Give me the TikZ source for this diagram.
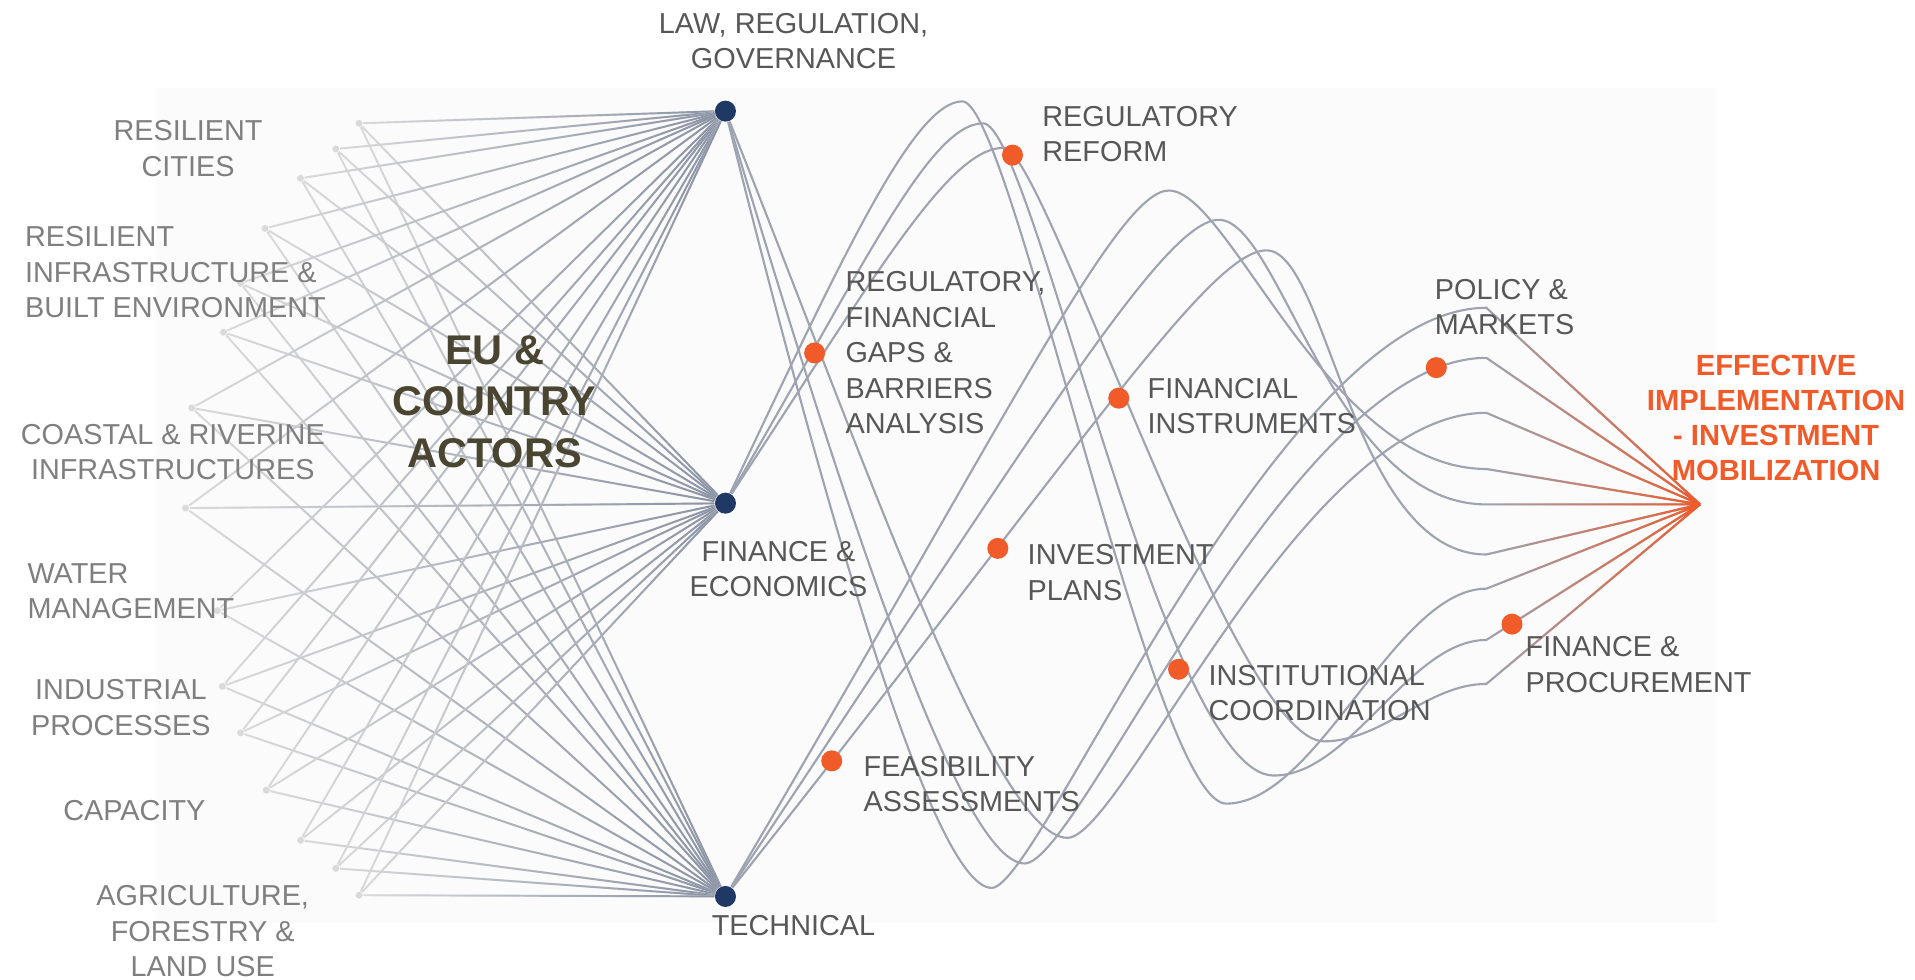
\documentclass[tikz,border=0pt]{standalone}
\usepackage{fontspec}
\setmainfont{Liberation Sans}
\usetikzlibrary{positioning,fadings,backgrounds}

\definecolor{hubnavy}{HTML}{1F3864}
\definecolor{accent}{HTML}{F15A29}
\definecolor{wire}{HTML}{9DA3B0}
\definecolor{spokelight}{HTML}{DADADA}
\definecolor{spokedark}{HTML}{8A93A5}
\definecolor{sidegray}{HTML}{7F7F7F}
\definecolor{textgray}{HTML}{575757}
\definecolor{actorolive}{HTML}{4A4530}
\definecolor{panel}{HTML}{FBFBFB}

\tikzfading[name=fade in east,left color=transparent!100,right color=transparent!0]

\tikzset{
  hub/.style={circle,fill=hubnavy,inner sep=0pt,minimum size=2.1mm},
  stage/.style={circle,fill=accent,inner sep=0pt,minimum size=2.1mm},
  source/.style={circle,fill=spokelight,inner sep=0pt,minimum size=0.7mm},
  spoke/.style={draw=spokelight,line width=0.55pt,postaction={draw=spokedark,path fading=fade in east}},
  wave/.style={draw=wire,line width=0.6pt},
  glow/.style={draw=accent,line width=0.6pt,path fading=fade in east},
  sidelabel/.style={font=\fontsize{8.2}{10.1}\selectfont,text=sidegray,align=center,inner sep=0pt},
  hublabel/.style={font=\fontsize{8.2}{10.1}\selectfont,text=textgray,align=center,inner sep=0pt},
  steplabel/.style={font=\fontsize{8.2}{10.1}\selectfont,text=textgray,align=left,inner sep=0pt},
  goallabel/.style={font=\bfseries\fontsize{8.3}{9.9}\selectfont,text=accent,align=center,inner sep=0pt},
  actorlabel/.style={font=\bfseries\fontsize{11.8}{14.6}\selectfont,text=actorolive,align=center,inner sep=0pt}
}

\begin{document}
\begin{tikzpicture}[x=0.012213cm,y=-0.012213cm]
\useasboundingbox (0,0) rectangle (1568,802);

% sector anchors on the left
\node[source] (s1) at (294,101) {};
\node[source] (s2) at (275,122) {};
\node[source] (s3) at (246,146) {};
\node[source] (s4) at (217,187) {};
\node[source] (s5) at (197,232) {};
\node[source] (s6) at (183,272) {};
\node[source] (s7) at (157,334) {};
\node[source] (s8) at (152,416) {};
\node[source] (s9) at (178,500) {};
\node[source] (s10) at (182,562) {};
\node[source] (s11) at (197,600) {};
\node[source] (s12) at (218,647) {};
\node[source] (s13) at (246,688) {};
\node[source] (s14) at (275,711) {};
\node[source] (s15) at (294,733) {};

% expertise hubs
\node[hub] (law) at (594,91) {};
\node[hub] (fin) at (594,412) {};
\node[hub] (tech) at (594,734) {};

% steps on the way
\node[stage] (gaps) at (667,289) {};
\node[stage] (reform) at (829,127) {};
\node[stage] (instr) at (916,326) {};
\node[stage] (plans) at (817,449) {};
\node[stage] (feas) at (681,623) {};
\node[stage] (coord) at (965,548) {};
\node[stage] (policy) at (1176,301) {};
\node[stage] (procure) at (1238,511) {};
\coordinate (goal) at (1392,413);

% turning points of the waves
\coordinate (Lb1) at (812,727);
\coordinate (Lb2) at (839,707);
\coordinate (Lb3) at (874,686);
\coordinate (Lk1) at (1217,252);
\coordinate (Lk2) at (1217,293);
\coordinate (Lk3) at (1217,338);
\coordinate (Fp1) at (788,83);
\coordinate (Fp2) at (805,101);
\coordinate (Fp3) at (822,121);
\coordinate (Fb1) at (1004,658);
\coordinate (Fb2) at (1043,635);
\coordinate (Fb3) at (1084,607);
\coordinate (Fk1) at (1217,482);
\coordinate (Fk2) at (1217,524);
\coordinate (Fk3) at (1217,560);
\coordinate (Tp1) at (957,156);
\coordinate (Tp2) at (998,180);
\coordinate (Tp3) at (1037,205);
\coordinate (Tk1) at (1217,384);
\coordinate (Tk2) at (1217,413);
\coordinate (Tk3) at (1217,454);

\begin{pgfonlayer}{background}
\fill[panel] (128,72) rectangle (1405,756);
% every sector reaches all three hubs
\draw[spoke] (s1) -- (law) (s1) -- (fin) (s1) -- (tech);
\draw[spoke] (s2) -- (law) (s2) -- (fin) (s2) -- (tech);
\draw[spoke] (s3) -- (law) (s3) -- (fin) (s3) -- (tech);
\draw[spoke] (s4) -- (law) (s4) -- (fin) (s4) -- (tech);
\draw[spoke] (s5) -- (law) (s5) -- (fin) (s5) -- (tech);
\draw[spoke] (s6) -- (law) (s6) -- (fin) (s6) -- (tech);
\draw[spoke] (s7) -- (law) (s7) -- (fin) (s7) -- (tech);
\draw[spoke] (s8) -- (law) (s8) -- (fin) (s8) -- (tech);
\draw[spoke] (s9) -- (law) (s9) -- (fin) (s9) -- (tech);
\draw[spoke] (s10) -- (law) (s10) -- (fin) (s10) -- (tech);
\draw[spoke] (s11) -- (law) (s11) -- (fin) (s11) -- (tech);
\draw[spoke] (s12) -- (law) (s12) -- (fin) (s12) -- (tech);
\draw[spoke] (s13) -- (law) (s13) -- (fin) (s13) -- (tech);
\draw[spoke] (s14) -- (law) (s14) -- (fin) (s14) -- (tech);
\draw[spoke] (s15) -- (law) (s15) -- (fin) (s15) -- (tech);
% law: down first, then up past policy
\draw[wave] (law) .. controls +(75,300) and +(-50,0) .. (Lb1) .. controls +(40,0) and +(-170,0) .. (Lk1) -- (goal);
\draw[wave] (law) .. controls +(90,300) and +(-55,0) .. (Lb2) .. controls +(45,0) and +(-160,0) .. (Lk2) -- (goal);
\draw[wave] (law) .. controls +(110,275) and +(-60,0) .. (Lb3) .. controls +(45,0) and +(-150,0) .. (Lk3) -- (goal);
% finance: over the reform peak, down, then up to procurement
\draw[wave] (fin) .. controls +(95,-200) and +(-40,0) .. (Fp1) .. controls +(40,0) and +(-60,0) .. (Fb1) .. controls +(75,0) and +(-75,0) .. (Fk1) -- (goal);
\draw[wave] (fin) .. controls +(110,-187) and +(-45,0) .. (Fp2) .. controls +(40,0) and +(-90,0) .. (Fb2) .. controls +(63,0) and +(-63,0) .. (Fk2) -- (goal);
\draw[wave] (fin) .. controls +(125,-190) and +(-45,0) .. (Fp3) .. controls +(33,0) and +(-74,0) .. (Fb3) .. controls +(48,0) and +(-48,0) .. (Fk3) -- (goal);
% technical: one long climb, then down to the goal
\draw[wave] (tech) .. controls +(230,-390) and +(-42,0) .. (Tp1) .. controls +(50,0) and +(-130,0) .. (Tk1) -- (goal);
\draw[wave] (tech) .. controls +(255,-382) and +(-45,0) .. (Tp2) .. controls +(50,0) and +(-125,0) .. (Tk2) -- (goal);
\draw[wave] (tech) .. controls +(290,-365) and +(-47,0) .. (Tp3) .. controls +(50,0) and +(-110,0) .. (Tk3) -- (goal);
\draw[glow] (Lk1) -- (goal) (Lk2) -- (goal) (Lk3) -- (goal)
  (Tk1) -- (goal) (Tk2) -- (goal) (Tk3) -- (goal)
  (Fk1) -- (goal) (Fk2) -- (goal) (Fk3) -- (goal);
\end{pgfonlayer}

% sector names
\node[sidelabel] (cities) at (154,121.5) {RESILIENT\\CITIES};
\node[sidelabel,align=left,anchor=west] (built) at (20,223) {RESILIENT\\INFRASTRUCTURE \&\\BUILT ENVIRONMENT};
\node[sidelabel] (coastal) at (141.5,370) {COASTAL \& RIVERINE\\INFRASTRUCTURES};
\node[sidelabel,align=left,anchor=west] (water) at (22,484) {WATER\\MANAGEMENT};
\node[sidelabel] (industry) at (99,579.5) {INDUSTRIAL\\PROCESSES};
\node[sidelabel] (capacity) at (110,664) {CAPACITY};
\node[sidelabel] (agri) at (166,762.5) {AGRICULTURE,\\FORESTRY \&\\LAND USE};
\node[actorlabel] (actors) at (405,329) {EU \&\\COUNTRY\\ACTORS};

% hub names
\node[hublabel,above=0.3cm of law,xshift=0.68cm] (lawname) {LAW, REGULATION,\\GOVERNANCE};
\node[hublabel,below=0.26cm of fin,xshift=0.53cm] (finname) {FINANCE \&\\ECONOMICS};
\node[hublabel,below=0.07cm of tech,xshift=0.68cm] (techname) {TECHNICAL};

% step names
\node[steplabel,right=0.19cm of gaps] (gapsname) {REGULATORY,\\FINANCIAL\\GAPS \&\\BARRIERS\\ANALYSIS};
\node[steplabel,right=0.18cm of reform,yshift=0.21cm] (reformname) {REGULATORY\\REFORM};
\node[steplabel,right=0.17cm of instr,yshift=-0.08cm] (instrname) {FINANCIAL\\INSTRUMENTS};
\node[steplabel,right=0.18cm of plans,yshift=-0.24cm] (plansname) {INVESTMENT\\PLANS};
\node[steplabel,right=0.2cm of feas,yshift=-0.23cm] (feasname) {FEASIBILITY\\ASSESSMENTS};
\node[steplabel,right=0.18cm of coord,yshift=-0.24cm] (coordname) {INSTITUTIONAL\\COORDINATION};
\node[steplabel,above right=0.24cm and -0.1cm of policy] (policyname) {POLICY \&\\MARKETS};
\node[steplabel,below right=0.04cm and 0.05cm of procure] (procurename) {FINANCE \&\\PROCUREMENT};
\node[goallabel,above=0.23cm of goal,xshift=0.76cm] (goalname) {EFFECTIVE\\IMPLEMENTATION\\- INVESTMENT\\MOBILIZATION};
\end{tikzpicture}
\end{document}
